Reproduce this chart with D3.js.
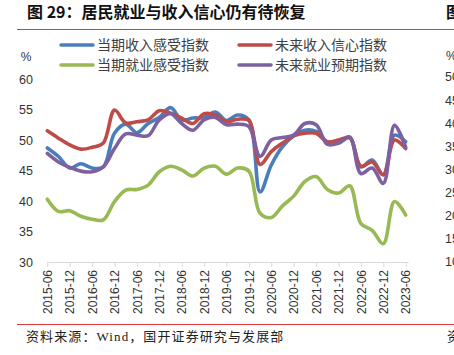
<!DOCTYPE html>
<html><head><meta charset="utf-8">
<script src="https://cdn.jsdelivr.net/npm/d3@7"></script>
<style>
body{margin:0;background:#fff;}
svg{display:block;}
</style></head>
<body><svg id="c" width="454" height="355"></svg>
<script>
const categories = ["2015-06","2015-09","2015-12","2016-03","2016-06","2016-09","2016-12","2017-03","2017-06","2017-09","2017-12","2018-03","2018-06","2018-09","2018-12","2019-03","2019-06","2019-09","2019-12","2020-03","2020-06","2020-09","2020-12","2021-03","2021-06","2021-09","2021-12","2022-03","2022-06","2022-09","2022-12","2023-03","2023-06"];
const tickLabels = ["2015-06","2015-12","2016-06","2016-12","2017-06","2017-12","2018-06","2018-12","2019-06","2019-12","2020-06","2020-12","2021-06","2021-12","2022-06","2022-12","2023-06"];
const yTicks = [30,35,40,45,50,55,60];
const seriesNames = ["当期收入感受指数","未来收入信心指数","当期就业感受指数","未来就业预期指数"];
const incomeNow  = [48.7,47.3,45.4,46.1,45.4,45.6,51.1,52.6,51.2,52.7,53.7,55.3,53.3,53.6,53.7,54.6,53.2,54.1,53.3,41.5,45.9,48.9,50.7,51.6,51.4,49.7,49.5,50.4,45.6,46.7,44.3,50.8,49.7];
const incomeFut  = [51.5,50.3,49.2,48.5,48.8,49.5,54.9,52.8,53.0,53.3,54.8,54.4,53.6,52.7,54.3,54.1,53.0,53.4,53.2,46.0,48.1,49.5,50.7,51.1,51.1,49.7,50.0,50.4,45.7,46.4,44.3,50.0,48.6];
const jobNow     = [40.3,38.3,38.4,37.5,37.0,36.9,39.9,41.8,41.9,42.6,44.8,45.7,45.1,44.1,45.4,45.7,44.4,45.4,44.9,38.0,37.3,39.2,40.8,43.2,44.0,41.9,41.3,42.5,36.3,35.2,33.0,39.9,37.7];
const jobFut     = [47.8,46.4,45.5,44.9,44.8,45.6,48.6,51.0,50.8,50.7,53.3,54.3,52.7,51.6,53.3,53.7,52.5,52.6,52.2,47.3,50.0,50.4,50.8,52.7,52.5,49.3,49.5,50.5,44.5,45.4,42.9,52.4,48.8];
const colors = ["#4A7EBB","#BE4B48","#98B954","#7D60A0"];
const seriesData = [incomeNow, incomeFut, jobNow, jobFut];
const rightTicks = ["50","45","40","35","30","25","20","15","10"];

const svg = d3.select("#c");
const x = d3.scalePoint().domain(categories).range([47.3, 405.7]);
const y = d3.scaleLinear().domain([30,60]).range([262,79]);

// title
svg.append("text").attr("x",27).attr("y",18).attr("font-family","'Noto Sans CJK SC'").attr("font-weight","bold")
  .attr("font-size",16).attr("fill","#111").text("图 29：居民就业与收入信心仍有待恢复");
svg.append("text").attr("x",446).attr("y",18).attr("font-family","'Noto Sans CJK SC'").attr("font-weight","bold")
  .attr("font-size",16).attr("fill","#111").text("图");
svg.append("line").attr("x1",17).attr("x2",454).attr("y1",29.5).attr("y2",29.5).attr("stroke","#E0383E").attr("stroke-width",1.2);
svg.append("line").attr("x1",17).attr("x2",454).attr("y1",324.5).attr("y2",324.5).attr("stroke","#E0383E").attr("stroke-width",1.2);

// source
svg.append("text").attr("x",26).attr("y",341).attr("font-family","'Liberation Serif','Noto Sans CJK SC'")
  .attr("font-size",13).attr("letter-spacing",1.1).attr("fill","#222").text("资料来源：Wind，国开证券研究与发展部");
svg.append("text").attr("x",447).attr("y",341).attr("font-family","'Liberation Serif','Noto Sans CJK SC'")
  .attr("font-size",13).attr("fill","#222").text("资");

// legend
const legendPos = [[61,45],[239,45],[61,65],[239,65]];
seriesNames.forEach((n,i)=>{
  const [lx,ly] = legendPos[i];
  svg.append("line").attr("x1",lx).attr("x2",lx+32).attr("y1",ly).attr("y2",ly)
    .attr("stroke",colors[i]).attr("stroke-width",3.5).attr("stroke-linecap","round");
  svg.append("text").attr("x",lx+36).attr("y",ly).attr("dy","0.36em").attr("font-family","'Noto Sans CJK SC'")
    .attr("font-size",14).attr("fill","#404040").text(n);
});

// y axis labels
svg.append("text").attr("x",26).attr("y",57).attr("dy","0.35em").attr("text-anchor","middle")
  .attr("font-family","'Liberation Sans',Arial").attr("font-size",12).attr("fill","#333").text("%");
const yAxis = d3.axisLeft(y).tickValues(yTicks).tickSize(0).tickPadding(0);
const ya = svg.append("g").attr("transform","translate(33,0)").call(yAxis);
ya.select(".domain").remove();
ya.selectAll("text").attr("font-family","'Liberation Sans',Arial").attr("font-size",12.5).attr("fill","#333");

// neighbouring chart fragments on the right edge
svg.append("text").attr("x",446).attr("y",56).attr("dy","0.35em").attr("font-family","'Liberation Sans',Arial").attr("font-size",12).attr("fill","#333").text("%");
const yR = d3.scaleLinear().domain([0,8]).range([77,262]);
rightTicks.forEach((t,i)=>{
  svg.append("text").attr("x",445).attr("y",yR(i)).attr("dy","0.35em").attr("font-family","'Liberation Sans',Arial")
    .attr("font-size",12.5).attr("fill","#333").text(t);
});

// x axis
const tickCats = categories.filter(c=>tickLabels.includes(c));
const xAxis = d3.axisBottom(x).tickValues(tickCats).tickSize(5).tickSizeOuter(0);
const xa = svg.append("g").attr("transform","translate(0,262)").call(xAxis);
xa.select(".domain").attr("d",`M${x(categories[0])},0.5H${x(categories[categories.length-1])+3}`).attr("stroke","#d9d9d9");
xa.selectAll(".tick line").attr("stroke","#d9d9d9");
xa.selectAll(".tick text").attr("font-family","'Liberation Sans',Arial").attr("font-size",12).attr("fill","#333")
  .attr("transform","rotate(-90)").attr("text-anchor","end").attr("x",-8).attr("y",0).attr("dy","0.35em");

// lines
const line = d3.line().x((d,i)=>x(categories[i])).y(d=>y(d)).curve(d3.curveCatmullRom.alpha(0.5));
seriesData.forEach((s,i)=>{
  svg.append("path").datum(s).attr("d",line).attr("fill","none").attr("stroke",colors[i])
    .attr("stroke-width",3.6).attr("stroke-linejoin","round").attr("stroke-linecap","round");
});
</script></body></html>
